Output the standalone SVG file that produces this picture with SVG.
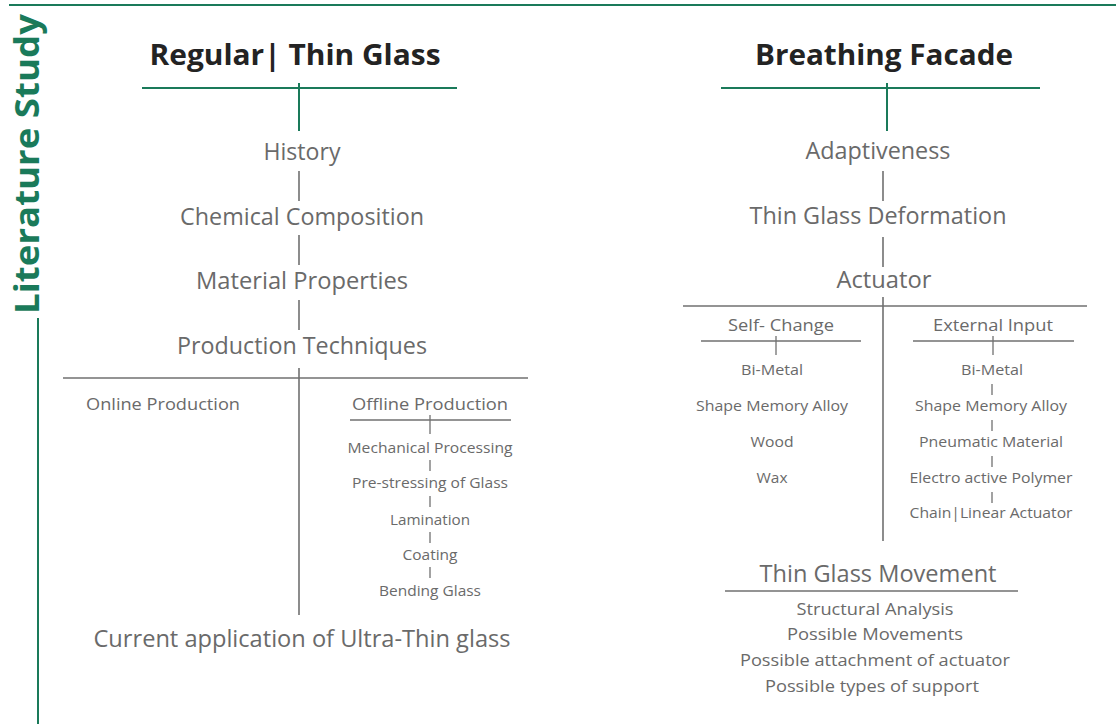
<svg xmlns="http://www.w3.org/2000/svg" width="1116" height="724" viewBox="0 0 1116 724">
<style>
text{font-family:"Open Sans","Noto Sans","Liberation Sans",sans-serif;fill:#6a6a6a;text-anchor:middle}
.h{font-weight:700;fill:#232323;font-size:28px}
.l1{font-size:23px}
.l2{font-size:17px}
.l3{font-size:15px}
.l4{font-size:17px}
.title{font-weight:700;fill:#1a7a5a;font-size:34px}
.g{stroke:#1a7a5a;stroke-width:2;fill:none}
.c{stroke:#707070;stroke-width:1.6;fill:none}
.t{stroke:#707070;stroke-width:1.3;fill:none}
</style>
<rect width="1116" height="724" fill="#ffffff"/>
<g id="frame">
<line class="g" x1="9" y1="5" x2="1116" y2="5"/>
<line class="g" x1="38" y1="318" x2="38" y2="724" stroke-width="1.6"/>
<text class="title" transform="translate(39,164) rotate(-90)" textLength="300" lengthAdjust="spacingAndGlyphs">Literature Study</text>
</g>
<g id="connectors">
<line class="g" x1="142" y1="88" x2="457" y2="88"/>
<line class="g" x1="299" y1="83" x2="299" y2="131" stroke-width="1.6"/>
<line class="g" x1="721" y1="88" x2="1040" y2="88"/>
<line class="g" x1="887" y1="83" x2="887" y2="131" stroke-width="1.6"/>
<line class="c" x1="299" y1="171" x2="299" y2="201"/>
<line class="c" x1="299" y1="235" x2="299" y2="265"/>
<line class="c" x1="299" y1="300" x2="299" y2="330"/>
<line class="c" x1="299" y1="368" x2="299" y2="615"/>
<line class="c" x1="63" y1="378" x2="528" y2="378"/>
<line class="c" x1="350" y1="420" x2="511" y2="420"/>
<line class="t" x1="430" y1="415" x2="430" y2="434"/>
<line class="t" x1="430" y1="460" x2="430" y2="471"/>
<line class="t" x1="430" y1="496" x2="430" y2="507"/>
<line class="t" x1="430" y1="532" x2="430" y2="543"/>
<line class="t" x1="430" y1="567" x2="430" y2="578"/>
<line class="c" x1="883" y1="171" x2="883" y2="201"/>
<line class="c" x1="883" y1="237" x2="883" y2="267"/>
<line class="c" x1="883" y1="297" x2="883" y2="541"/>
<line class="c" x1="683" y1="306" x2="1087" y2="306"/>
<line class="c" x1="701" y1="341" x2="861" y2="341"/>
<line class="t" x1="776" y1="336" x2="776" y2="355"/>
<line class="c" x1="913" y1="341" x2="1074" y2="341"/>
<line class="t" x1="993" y1="336" x2="993" y2="355"/>
<line class="t" x1="992" y1="384" x2="992" y2="395"/>
<line class="t" x1="992" y1="420" x2="992" y2="431"/>
<line class="t" x1="992" y1="456" x2="992" y2="467"/>
<line class="t" x1="992" y1="492" x2="992" y2="503"/>
<line class="c" x1="725" y1="591" x2="1018" y2="591"/>
</g>
<g id="regular-thin-glass"><text class="h" x="295" y="65" textLength="291" lengthAdjust="spacingAndGlyphs">Regular| Thin Glass</text></g>
<g id="history"><text class="l1" x="302" y="160" textLength="77" lengthAdjust="spacingAndGlyphs">History</text></g>
<g id="chemical-composition"><text class="l1" x="302" y="225" textLength="244" lengthAdjust="spacingAndGlyphs">Chemical Composition</text></g>
<g id="material-properties"><text class="l1" x="302" y="289" textLength="212" lengthAdjust="spacingAndGlyphs">Material Properties</text></g>
<g id="production-techniques"><text class="l1" x="302" y="354" textLength="250" lengthAdjust="spacingAndGlyphs">Production Techniques</text></g>
<g id="online-production"><text class="l2" x="163" y="410" textLength="154" lengthAdjust="spacingAndGlyphs">Online Production</text></g>
<g id="offline-production"><text class="l2" x="430" y="410" textLength="156" lengthAdjust="spacingAndGlyphs">Offline Production</text></g>
<g id="mechanical-processing"><text class="l3" x="430" y="453" textLength="165" lengthAdjust="spacingAndGlyphs">Mechanical Processing</text></g>
<g id="pre-stressing"><text class="l3" x="430" y="488" textLength="156" lengthAdjust="spacingAndGlyphs">Pre-stressing of Glass</text></g>
<g id="lamination"><text class="l3" x="430" y="525" textLength="80" lengthAdjust="spacingAndGlyphs">Lamination</text></g>
<g id="coating"><text class="l3" x="430" y="560" textLength="55" lengthAdjust="spacingAndGlyphs">Coating</text></g>
<g id="bending-glass"><text class="l3" x="430" y="596" textLength="102" lengthAdjust="spacingAndGlyphs">Bending Glass</text></g>
<g id="current-application"><text class="l1" x="302" y="647" textLength="417" lengthAdjust="spacingAndGlyphs">Current application of Ultra-Thin glass</text></g>
<g id="breathing-facade"><text class="h" x="884" y="65" textLength="258" lengthAdjust="spacingAndGlyphs">Breathing Facade</text></g>
<g id="adaptiveness"><text class="l1" x="878" y="159" textLength="145" lengthAdjust="spacingAndGlyphs">Adaptiveness</text></g>
<g id="thin-glass-deformation"><text class="l1" x="878" y="224" textLength="257" lengthAdjust="spacingAndGlyphs">Thin Glass Deformation</text></g>
<g id="actuator"><text class="l1" x="884" y="288" textLength="95" lengthAdjust="spacingAndGlyphs">Actuator</text></g>
<g id="self-change"><text class="l2" x="781" y="331" textLength="106" lengthAdjust="spacingAndGlyphs">Self- Change</text></g>
<g id="external-input"><text class="l2" x="993" y="331" textLength="120" lengthAdjust="spacingAndGlyphs">External Input</text></g>
<g id="sc-bi-metal"><text class="l3" x="772" y="375" textLength="62" lengthAdjust="spacingAndGlyphs">Bi-Metal</text></g>
<g id="sc-sma"><text class="l3" x="772" y="411" textLength="152" lengthAdjust="spacingAndGlyphs">Shape Memory Alloy</text></g>
<g id="sc-wood"><text class="l3" x="772" y="447" textLength="43" lengthAdjust="spacingAndGlyphs">Wood</text></g>
<g id="sc-wax"><text class="l3" x="772" y="483" textLength="31" lengthAdjust="spacingAndGlyphs">Wax</text></g>
<g id="ei-bi-metal"><text class="l3" x="992" y="375" textLength="62" lengthAdjust="spacingAndGlyphs">Bi-Metal</text></g>
<g id="ei-sma"><text class="l3" x="991" y="411" textLength="152" lengthAdjust="spacingAndGlyphs">Shape Memory Alloy</text></g>
<g id="ei-pneumatic"><text class="l3" x="991" y="447" textLength="144" lengthAdjust="spacingAndGlyphs">Pneumatic Material</text></g>
<g id="ei-electro"><text class="l3" x="991" y="483" textLength="163" lengthAdjust="spacingAndGlyphs">Electro active Polymer</text></g>
<g id="ei-chain"><text class="l3" x="991" y="518" textLength="163" lengthAdjust="spacingAndGlyphs">Chain|Linear Actuator</text></g>
<g id="thin-glass-movement"><text class="l1" x="878" y="582" textLength="237" lengthAdjust="spacingAndGlyphs">Thin Glass Movement</text></g>
<g id="structural-analysis"><text class="l4" x="875" y="615" textLength="157" lengthAdjust="spacingAndGlyphs">Structural Analysis</text></g>
<g id="possible-movements"><text class="l4" x="875" y="640" textLength="176" lengthAdjust="spacingAndGlyphs">Possible Movements</text></g>
<g id="possible-attachment"><text class="l4" x="875" y="666" textLength="270" lengthAdjust="spacingAndGlyphs">Possible attachment of actuator</text></g>
<g id="possible-support"><text class="l4" x="872" y="692" textLength="214" lengthAdjust="spacingAndGlyphs">Possible types of support</text></g>
</svg>
